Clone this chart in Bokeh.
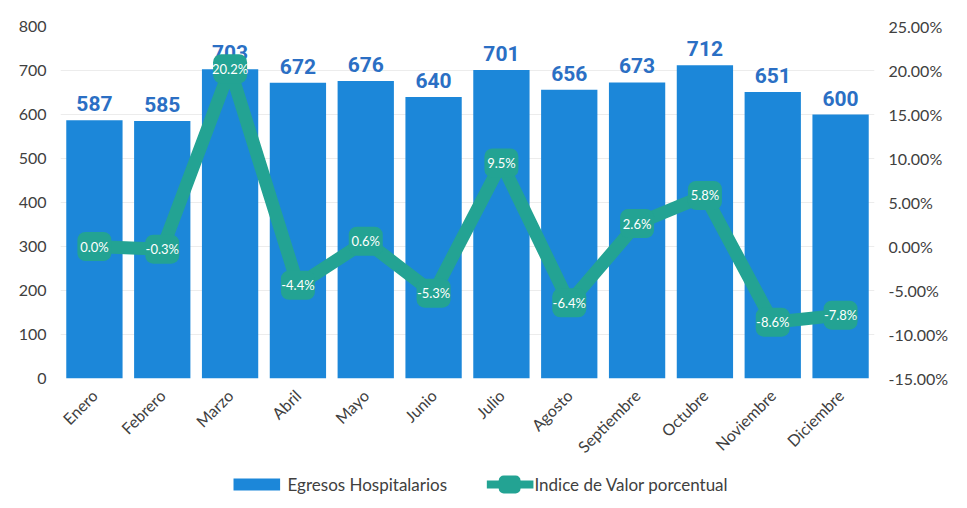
from bokeh.plotting import figure
from bokeh.layouts import column
from bokeh.models import (Range1d, LinearAxis, NumeralTickFormatter, FixedTicker,
                          ColumnDataSource)
from bokeh.embed import file_html
from bokeh.resources import INLINE
from bokeh.core.properties import value
import math

months = ["Enero", "Febrero", "Marzo", "Abril", "Mayo", "Junio", "Julio",
          "Agosto", "Septiembre", "Octubre", "Noviembre", "Diciembre"]
egresos = [587, 585, 703, 672, 676, 640, 701, 656, 673, 712, 651, 600]
indice = [0.0, -0.3, 20.2, -4.4, 0.6, -5.3, 9.5, -6.4, 2.6, 5.8, -8.6, -7.8]
left_ticks = [0, 100, 200, 300, 400, 500, 600, 700, 800]
right_ticks = [-0.15, -0.10, -0.05, 0.0, 0.05, 0.10, 0.15, 0.20, 0.25]
series_names = ["Egresos Hospitalarios", "Indice de Valor porcentual"]

BAR = "#1c87d9"
LBL = "#2b6fc4"
TEAL = "#23a393"
TXT = "#404040"
FONT = "Lato"

src = ColumnDataSource(dict(
    m=months, e=egresos, et=[str(v) for v in egresos],
    pf=[v / 100 for v in indice], pt=["%.1f%%" % v for v in indice],
))

p = figure(x_range=months, y_range=Range1d(0, 800), width=951, height=468,
           output_backend="svg", toolbar_location=None,
           min_border_left=60, min_border_right=70, min_border_top=26,
           min_border_bottom=90)
p.extra_y_ranges = {"pct": Range1d(-0.15, 0.25)}
p.outline_line_color = None

p.vbar(x="m", top="e", width=0.83, source=src, color=BAR, line_color=None)
p.text(x="m", y="e", text="et", source=src, text_align="center",
       text_baseline="bottom", y_offset=-9, text_color=LBL,
       text_font=value("Roboto"), text_font_style="bold",
       text_font_size="21px")

p.line(x="m", y="pf", source=src, y_range_name="pct", line_color=TEAL,
       line_width=13, line_join="round")
p.rect(x="m", y="pf", width=34, height=29, width_units="screen",
       height_units="screen", border_radius=8, source=src,
       y_range_name="pct", fill_color=TEAL, line_color=None)
p.text(x="m", y="pf", text="pt", source=src, y_range_name="pct",
       text_align="center", text_baseline="middle", text_color="white",
       text_font=value(FONT), text_font_size="13px")

p.yaxis.ticker = FixedTicker(ticks=left_ticks)
ax_r = LinearAxis(y_range_name="pct", ticker=FixedTicker(ticks=right_ticks),
                  formatter=NumeralTickFormatter(format="0.00%"))
p.add_layout(ax_r, "right")

for ax in p.yaxis + p.xaxis:
    ax.axis_line_color = None
    ax.major_tick_line_color = None
    ax.minor_tick_line_color = None
    ax.major_label_text_font = FONT
    ax.major_label_text_font_size = "16px"
    ax.major_label_text_color = TXT
p.yaxis.major_label_standoff = 8
p.xaxis.major_label_orientation = math.pi / 4
p.xaxis.major_label_standoff = 8

p.xgrid.grid_line_color = None
p.ygrid.grid_line_color = "#ececec"

# legend strip (its frame is aligned with the main frame: 60..881 px)
lg = figure(width=951, height=30, x_range=Range1d(60, 881), y_range=Range1d(0, 30),
            output_backend="svg", toolbar_location=None, min_border=0,
            min_border_left=60, min_border_right=70)
lg.axis.visible = False
lg.grid.visible = False
lg.outline_line_color = None
lg.rect(x=[258], y=[14], width=47, height=12, color=BAR, line_color=None)
lg.text(x=[289], y=[14], text=[series_names[0]], text_baseline="middle",
        text_font=value(FONT), text_font_size="17px", text_color=TXT)
lg.line(x=[490, 537], y=[14, 14], line_color=TEAL, line_width=8)
lg.rect(x=[513], y=[14], width=22, height=18, border_radius=5,
        fill_color=TEAL, line_color=None)
lg.text(x=[538], y=[14], text=[series_names[1]], text_baseline="middle",
        text_font=value(FONT), text_font_size="17px", text_color=TXT)

open("out.html", "w").write(file_html(column(p, lg), INLINE))
